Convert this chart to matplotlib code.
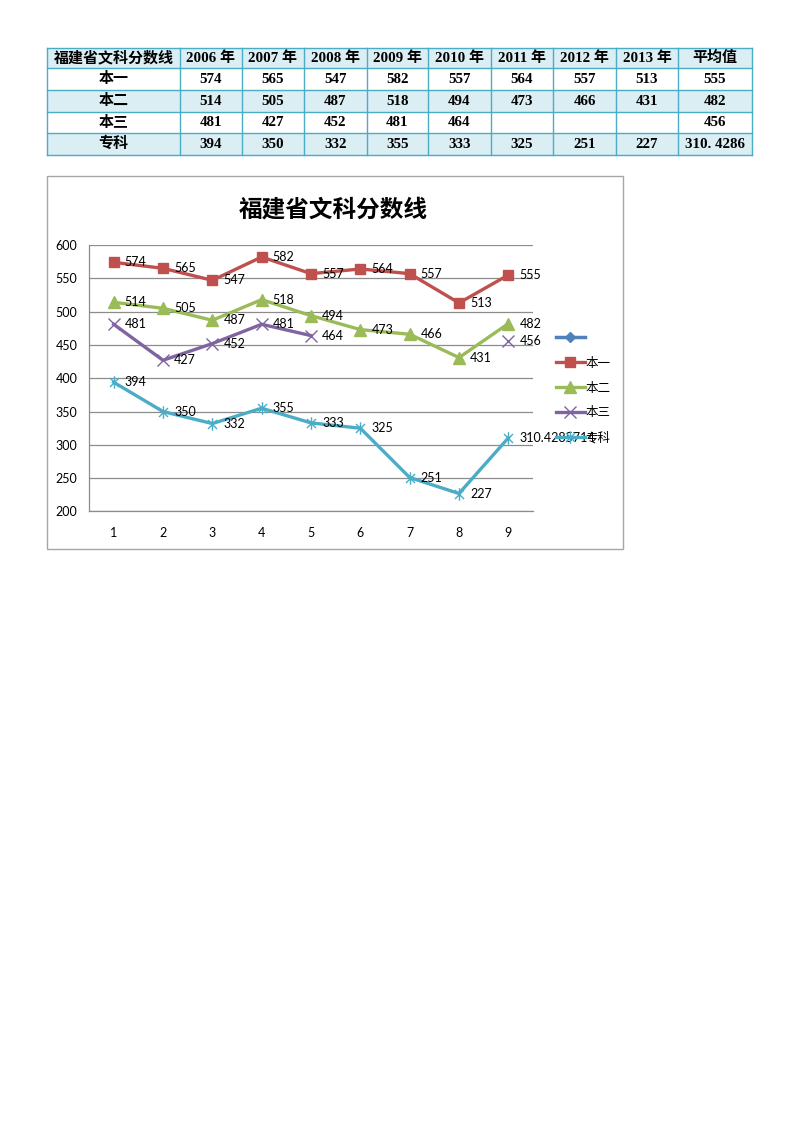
import numpy as np
import matplotlib
matplotlib.use("Agg")
import matplotlib.pyplot as plt
from matplotlib.path import Path
from matplotlib.lines import Line2D
from matplotlib.patches import Rectangle

# ---------------- data ----------------
table_title = "福建省文科分数线"
years = ["2006 年", "2007 年", "2008 年", "2009 年", "2010 年", "2011 年", "2012 年", "2013 年", "平均值"]
categories = ["本一", "本二", "本三", "专科"]
benyi = [574, 565, 547, 582, 557, 564, 557, 513, 555]
bener = [514, 505, 487, 518, 494, 473, 466, 431, 482]
bensan = [481, 427, 452, 481, 464, None, None, None, 456]
zhuanke = [394, 350, 332, 355, 333, 325, 251, 227, 310.4285714]
x_ticks = [1, 2, 3, 4, 5, 6, 7, 8, 9]
series = [benyi, bener, bensan, zhuanke]

W, H = 793, 1122
fig = plt.figure(figsize=(W / 100, H / 100), dpi=100)
fig.patch.set_facecolor("white")

# ---------------- table ----------------
tax = fig.add_axes([0, 0, 1, 1])
tax.set_xlim(0, W)
tax.set_ylim(H, 0)
tax.axis("off")

col_x = [47, 180, 242, 304, 367, 428, 491, 553, 616, 678, 752]
row_y = [48, 68, 90, 112, 133, 155]
shade = "#DAEEF3"
border = "#4BACC6"
shaded_rows = [0, 2, 4]
for r in shaded_rows:
    tax.add_patch(Rectangle((col_x[0], row_y[r]), col_x[-1] - col_x[0], row_y[r + 1] - row_y[r],
                            facecolor=shade, edgecolor="none", zorder=1))
for yy in row_y:
    tax.plot([col_x[0], col_x[-1]], [yy, yy], color=border, lw=1.0, zorder=2)
for xx in col_x:
    tax.plot([xx, xx], [row_y[0], row_y[-1]], color=border, lw=1.0, zorder=2)

tfam = ["Liberation Serif", "Noto Sans CJK SC"]


def fmt(v):
    if v is None:
        return ""
    if float(v).is_integer():
        return str(int(v))
    return f"{v:.4f}".replace(".", ". ")


def cell_text(r, c, s):
    cx = (col_x[c] + col_x[c + 1]) / 2
    cy = (row_y[r] + row_y[r + 1]) / 2
    tax.text(cx, cy, s, ha="center", va="center", fontsize=10.8, fontweight="bold",
             family=tfam, zorder=3)


cell_text(0, 0, table_title)
for j, y in enumerate(years):
    cell_text(0, j + 1, y)
for i, (cat, vals) in enumerate(zip(categories, series)):
    cell_text(i + 1, 0, cat)
    for j, v in enumerate(vals):
        cell_text(i + 1, j + 1, fmt(v))

# ---------------- chart frame ----------------
tax.add_patch(Rectangle((47, 176), 623 - 47, 549 - 176, facecolor="none",
                        edgecolor="#A6A6A6", lw=1.0, zorder=2))
tax.text((47 + 623) / 2 - 2, 210, table_title, ha="center", va="center", fontsize=17,
         fontweight="bold", family=["Noto Sans CJK SC"])

# ---------------- chart ----------------
left, right, top, bottom = 89, 533, 245, 511.5
ax = fig.add_axes([left / W, 1 - bottom / H, (right - left) / W, (bottom - top) / H])
ax.set_xlim(0.5, 9.5)
ax.set_ylim(200, 600)
ax.set_yticks(np.arange(200, 601, 50))
ax.set_xticks(x_ticks)
ax.yaxis.grid(True, color="#8C8C8C", lw=0.9)
ax.set_axisbelow(True)
for s in ["top", "right"]:
    ax.spines[s].set_visible(False)
for s in ["left", "bottom"]:
    ax.spines[s].set_color("#8C8C8C")
    ax.spines[s].set_linewidth(0.9)
ax.tick_params(length=0, labelsize=9)
ax.tick_params(axis="x", pad=11)
for lab in ax.get_xticklabels() + ax.get_yticklabels():
    lab.set_family("Lato")
for lab in ax.get_yticklabels():
    lab.set_horizontalalignment("left")
ax.tick_params(axis="y", pad=24)

star = Path([(0, -1), (0, 1), (-0.72, -0.72), (0.72, 0.72), (-0.72, 0.72), (0.72, -0.72)],
            [Path.MOVETO, Path.LINETO, Path.MOVETO, Path.LINETO, Path.MOVETO, Path.LINETO])

styles = [
    dict(color="#C0504D", marker="s", ms=7, mfc="#C0504D", mec="#C0504D", mew=1),
    dict(color="#9BBB59", marker="^", ms=8, mfc="#9BBB59", mec="#9BBB59", mew=1),
    dict(color="#8064A2", marker="x", ms=8, mfc="#8064A2", mec="#8064A2", mew=1.0),
    dict(color="#4BACC6", marker=star, ms=9, mfc="none", mec="#4BACC6", mew=1.0),
]

xs = np.array(x_ticks)
handles = [Line2D([], [], color="#4F81BD", lw=2.5, marker="D", ms=5, mfc="#4F81BD", mec="#4F81BD")]
labels = [""]
for cat, vals, st in zip(categories, series, styles):
    y = np.array([np.nan if v is None else v for v in vals], dtype=float)
    ax.plot(xs, y, lw=2.4, solid_joinstyle="round", zorder=3, **st)
    for xv, yv in zip(xs, y):
        if np.isnan(yv):
            continue
        txt = str(int(yv)) if float(yv).is_integer() else f"{yv:.7f}"
        ax.annotate(txt, (xv, yv), xytext=(8, 0), textcoords="offset points",
                    ha="left", va="center", fontsize=9, family="Lato", zorder=4)
    handles.append(Line2D([], [], lw=2.4, **st))
    labels.append(cat)

leg = ax.legend(handles, labels, loc="center left", bbox_to_anchor=(1.04, 0.463),
                frameon=False, handlelength=2.3, handletextpad=0.1, labelspacing=0.95,
                prop={"family": ["Noto Sans CJK SC"], "size": 9}, borderaxespad=0)

fig.savefig("out.png", dpi=100)
